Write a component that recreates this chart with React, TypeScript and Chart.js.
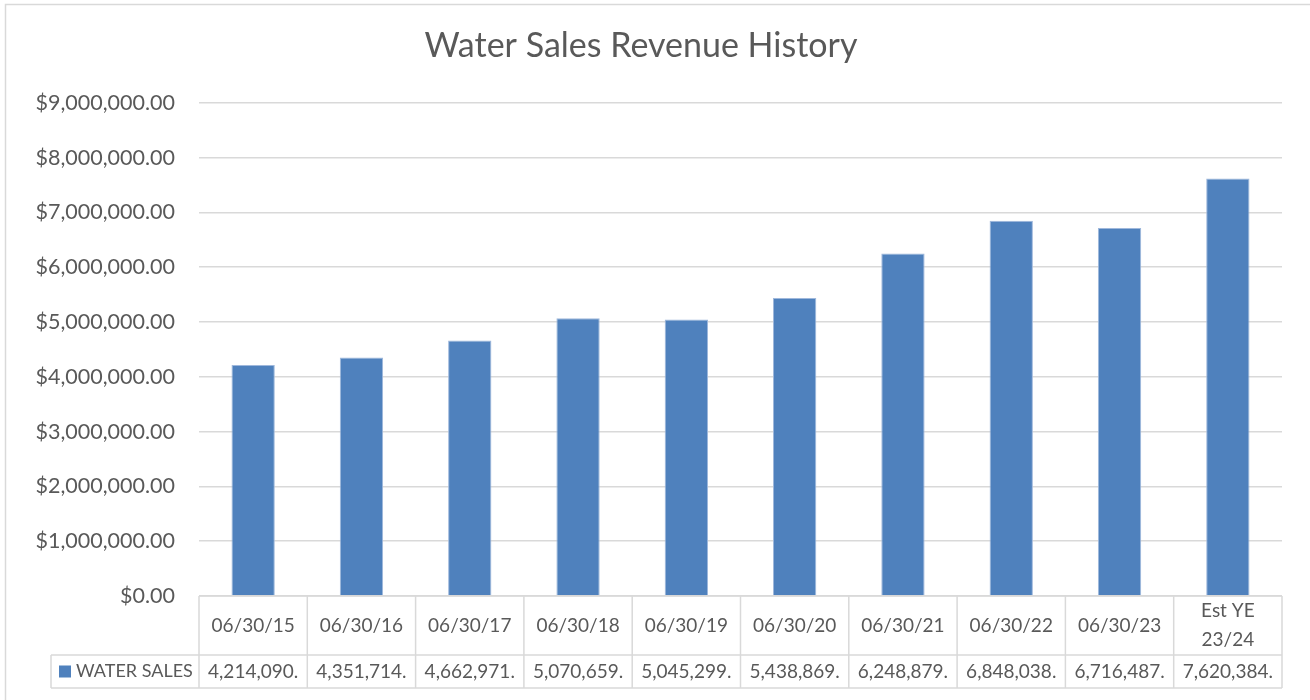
import React, { useEffect, useRef } from "react";
import { Chart, registerables } from "chart.js";

Chart.register(...registerables);

const categories: string[][] = [
  ["06/30/15"], ["06/30/16"], ["06/30/17"], ["06/30/18"], ["06/30/19"],
  ["06/30/20"], ["06/30/21"], ["06/30/22"], ["06/30/23"], ["Est YE", "23/24"],
];
const waterSales: number[] = [
  4214090, 4351714, 4662971, 5070659, 5045299, 5438869, 6248879, 6848038, 6716487, 7620384,
];
const tableLabels: string[] = [
  "4,214,090.", "4,351,714.", "4,662,971.", "5,070,659.", "5,045,299.",
  "5,438,869.", "6,248,879.", "6,848,038.", "6,716,487.", "7,620,384.",
];
const seriesName = "WATER SALES";
const chartTitle = "Water Sales Revenue History";

const FONT = "Lato, 'Open Sans', sans-serif";
const TEXT = "#595959";
const LINE = "#d9d9d9";
const BAR = "#4f81bd";

const frameAndTable = {
  id: "frameAndTable",
  beforeDraw(chart: any) {
    const ctx = chart.ctx;
    ctx.save();
    ctx.fillStyle = "#ffffff";
    ctx.fillRect(0, 0, chart.width, chart.height);
    ctx.strokeStyle = LINE;
    ctx.lineWidth = 1.5;
    ctx.strokeRect(5.5, 4.5, chart.width + 20, chart.height + 20);
    ctx.restore();
  },
  afterDraw(chart: any) {
    const ctx = chart.ctx;
    const x = chart.scales.x;
    const area = chart.chartArea;
    const n = categories.length;
    const colW = (area.right - area.left) / n;
    const top = area.bottom;
    const mid = top + 59;
    const bottom = mid + 33;
    const legendLeft = 51;
    ctx.save();
    ctx.strokeStyle = LINE;
    ctx.lineWidth = 1.5;
    ctx.beginPath();
    ctx.moveTo(area.left, top);
    ctx.lineTo(area.right, top);
    ctx.moveTo(legendLeft, mid);
    ctx.lineTo(area.right, mid);
    ctx.moveTo(legendLeft, bottom);
    ctx.lineTo(area.right, bottom);
    ctx.moveTo(legendLeft, mid);
    ctx.lineTo(legendLeft, bottom);
    for (let i = 0; i <= n; i++) {
      const px = i < n ? x.getPixelForValue(i) - colW / 2 : x.getPixelForValue(n - 1) + colW / 2;
      ctx.moveTo(px, top);
      ctx.lineTo(px, bottom);
    }
    ctx.stroke();

    ctx.fillStyle = TEXT;
    ctx.font = `19px ${FONT}`;
    ctx.textAlign = "center";
    ctx.textBaseline = "middle";
    for (let i = 0; i < n; i++) {
      const cx = x.getPixelForValue(i);
      const lines = categories[i];
      const lh = 29;
      const cy = (top + mid) / 2;
      lines.forEach((l, j) => {
        ctx.fillText(l, cx, cy + (j - (lines.length - 1) / 2) * lh);
      });
      ctx.fillText(tableLabels[i], cx, (mid + bottom) / 2);
    }
    ctx.fillStyle = BAR;
    ctx.fillRect(59, (mid + bottom) / 2 - 6, 12, 12);
    ctx.fillStyle = TEXT;
    ctx.textAlign = "left";
    ctx.font = `18px ${FONT}`;
    ctx.fillText(seriesName, 76, (mid + bottom) / 2);
    ctx.restore();
  },
};

export default function App() {
  const ref = useRef<HTMLCanvasElement | null>(null);
  useEffect(() => {
    document.body.style.margin = "0";
    const chart = new Chart(ref.current as HTMLCanvasElement, {
      type: "bar",
      data: {
        labels: categories.map((c) => c.join(" ")),
        datasets: [
          {
            label: seriesName,
            data: waterSales,
            backgroundColor: BAR,
            borderColor: "#9fb8dc",
            borderWidth: 1,
            categoryPercentage: 1,
            barPercentage: 0.4,
          },
        ],
      },
      options: {
        animation: false,
        responsive: true,
        maintainAspectRatio: false,
        layout: { padding: { top: 0, right: 28, bottom: 104, left: 0 } },
        plugins: {
          legend: { display: false },
          tooltip: { enabled: false },
          title: {
            display: true,
            text: chartTitle,
            color: TEXT,
            font: { family: FONT, size: 34, weight: "normal", lineHeight: 1.2 },
            padding: { top: 26, bottom: 36 },
          },
        },
        scales: {
          x: { display: false, offset: true },
          y: {
            min: 0,
            max: 9000000,
            afterFit: (s: any) => {
              s.width = 199;
            },
            border: { display: false },
            grid: { color: LINE, lineWidth: 1.5, drawTicks: false },
            ticks: {
              stepSize: 1000000,
              padding: 24,
              color: TEXT,
              font: { family: FONT, size: 21.5 },
              callback: (v: any) =>
                "$" + Number(v).toLocaleString("en-US", { minimumFractionDigits: 2, maximumFractionDigits: 2 }),
            },
          },
        },
      },
      plugins: [frameAndTable],
    });
    return () => chart.destroy();
  }, []);
  return (
    <div style={{ position: "absolute", left: 0, top: 0, width: 1310, height: 700 }}>
      <canvas ref={ref} />
    </div>
  );
}
